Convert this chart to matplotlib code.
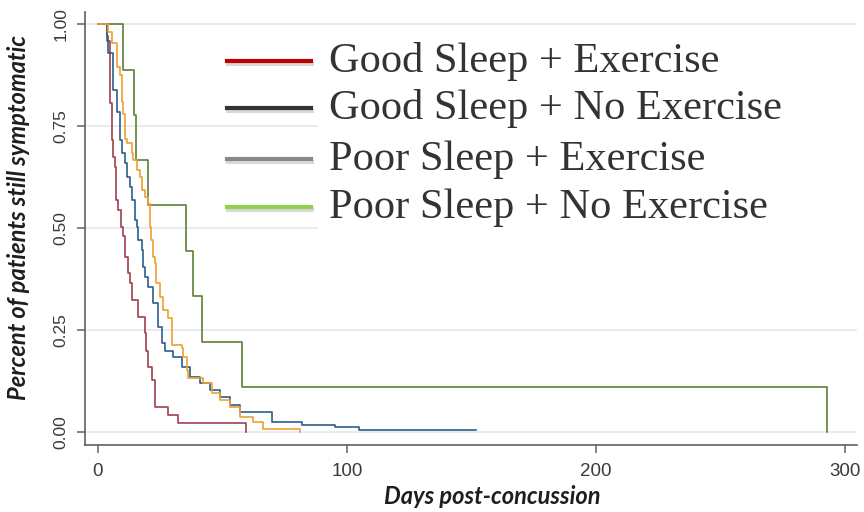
import matplotlib.pyplot as plt
import matplotlib.patheffects as pe
from matplotlib.lines import Line2D
from matplotlib.patches import Rectangle

# Kaplan-Meier steps: day of each drop and fraction still symptomatic after it
t_maroon = [0, 3.5, 4.8, 5.5, 6.1, 6.8, 7.2, 8.2, 9.1, 10.2, 10.8, 12.2, 13.0, 13.6,
            16.2, 18.8, 19.3, 20.0, 21.6, 22.8, 28.2, 32.3, 59.3]
s_maroon = [1.0, 0.96, 0.807, 0.716, 0.675, 0.65, 0.57, 0.545, 0.504, 0.48, 0.43, 0.39,
            0.366, 0.325, 0.283, 0.243, 0.20, 0.16, 0.128, 0.063, 0.042, 0.022, 0.0]

t_blue = [0, 3.5, 4.1, 6.1, 7.5, 8.8, 9.5, 10.8, 11.5, 12.8, 13.5, 14.9, 15.8, 16.2,
          17.5, 17.9, 18.9, 20.2, 22.2, 24.2, 25.6, 26.9, 30.2, 33.6, 37.0, 41.0, 45.0,
          49.0, 53.0, 57.0, 70.0, 82.0, 95.0, 105.0, 152.0]
s_blue = [1.0, 0.97, 0.93, 0.84, 0.786, 0.716, 0.684, 0.66, 0.626, 0.60, 0.57, 0.52,
          0.504, 0.471, 0.447, 0.406, 0.381, 0.357, 0.316, 0.259, 0.219, 0.20, 0.185,
          0.16, 0.136, 0.12, 0.104, 0.087, 0.067, 0.05, 0.026, 0.018, 0.014, 0.006, 0.006]

t_orange = [0, 4.1, 5.5, 7.5, 8.8, 9.5, 10.2, 10.8, 11.5, 13.5, 14.1, 15.5, 16.9, 17.5,
            18.9, 20.2, 20.9, 21.5, 22.2, 22.9, 23.5, 24.9, 26.2, 28.2, 29.6, 33.6, 34.3,
            35.6, 36.3, 42.3, 45.7, 49.0, 53.0, 57.0, 62.4, 66.4, 81.0]
s_orange = [1.0, 0.98, 0.955, 0.896, 0.876, 0.81, 0.78, 0.72, 0.71, 0.684, 0.667, 0.643,
            0.626, 0.594, 0.577, 0.56, 0.504, 0.471, 0.43, 0.415, 0.366, 0.332, 0.30, 0.28,
            0.214, 0.206, 0.185, 0.153, 0.133, 0.12, 0.096, 0.079, 0.063, 0.038, 0.026,
            0.008, 0.0]

t_green = [0, 10.0, 14.5, 15.3, 20.0, 35.2, 38.0, 41.8, 58.0, 292.8]
s_green = [1.0, 0.889, 0.778, 0.667, 0.556, 0.444, 0.333, 0.222, 0.111, 0.0]

curves = [
    (t_green, s_green, '#5d7f35'),
    (t_maroon, s_maroon, '#a0404f'),
    (t_blue, s_blue, '#2b5d8a'),
    (t_orange, s_orange, '#f0a030'),
]

legend_labels = ['Good Sleep + Exercise', 'Good Sleep + No Exercise',
                 'Poor Sleep + Exercise', 'Poor Sleep + No Exercise']
legend_colors = ['#c00000', '#333333', '#888888', '#92d050']

y_ticks = [0, 0.25, 0.5, 0.75, 1.0]
y_ticklabels = ['0.00', '0.25', '0.50', '0.75', '1.00']
x_ticks = [0, 100, 200, 300]

W, H = 864, 512
fig = plt.figure(figsize=(W / 100, H / 100), dpi=100)
ax = fig.add_axes([85 / W, 1 - 445 / H, (857 - 85) / W, (445 - 12) / H])

for t, s, c in curves:
    ax.step(t, s, where='post', color=c, lw=1.2)

ax.set_xlim(-5.2, 304.8)
ax.set_ylim(-0.031, 1.030)
ax.set_yticks(y_ticks)
ax.set_yticklabels(y_ticklabels)
ax.set_xticks(x_ticks)
ax.grid(axis='y', color='#e6ecf0', lw=1.4)
ax.set_axisbelow(True)

for side in ['top', 'right']:
    ax.spines[side].set_visible(False)
for side in ['left', 'bottom']:
    ax.spines[side].set_color('#606060')
    ax.spines[side].set_linewidth(1.2)

ax.tick_params(axis='both', direction='out', length=6, width=1.1, color='#606060',
               labelcolor='#3a3a3a')
ax.tick_params(axis='y', labelrotation=90, labelsize=12.5, pad=6)
ax.tick_params(axis='x', labelsize=13.5, pad=7)
for lab in ax.get_yticklabels():
    lab.set_family('Liberation Sans')
    lab.set_va('center')
for lab in ax.get_xticklabels():
    lab.set_family('Liberation Sans')

ax.set_xlabel('Days post-concussion', fontsize=17, fontweight='bold', style='italic',
              family='Lato', color='#1e1e1e', va='center')
ax.xaxis.set_label_coords((492 - 85) / 772, (445 - 496) / 433)
ax.set_ylabel('Percent of patients still symptomatic', fontsize=17, fontweight='bold',
              style='italic', family='Lato', color='#1e1e1e', va='center')
ax.yaxis.set_label_coords((19 - 85) / 772, (445 - 218) / 433)


def fx(px):
    return px / W


def fy(py):
    return 1 - py / H


# white text box over the plot area, then the key lines and labels
fig.add_artist(Rectangle((fx(318), fy(240)), fx(W) - fx(318), fy(32) - fy(240),
                         transform=fig.transFigure, facecolor='white',
                         edgecolor='none', zorder=2))
row_y = [61, 108, 159, 207]
for yy, lab, col in zip(row_y, legend_labels, legend_colors):
    fig.add_artist(Line2D([fx(227), fx(311)], [fy(yy), fy(yy)], color=col, lw=3,
                          transform=fig.transFigure, zorder=3,
                          path_effects=[pe.SimpleLineShadow(offset=(1.0, -1.8), alpha=0.15),
                                        pe.Normal()]))
    fig.text(fx(329), fy(yy + 11), lab, fontsize=30.5, family='Liberation Serif',
             color='#333333', va='baseline', zorder=3)

fig.savefig('out.png', dpi=100)
